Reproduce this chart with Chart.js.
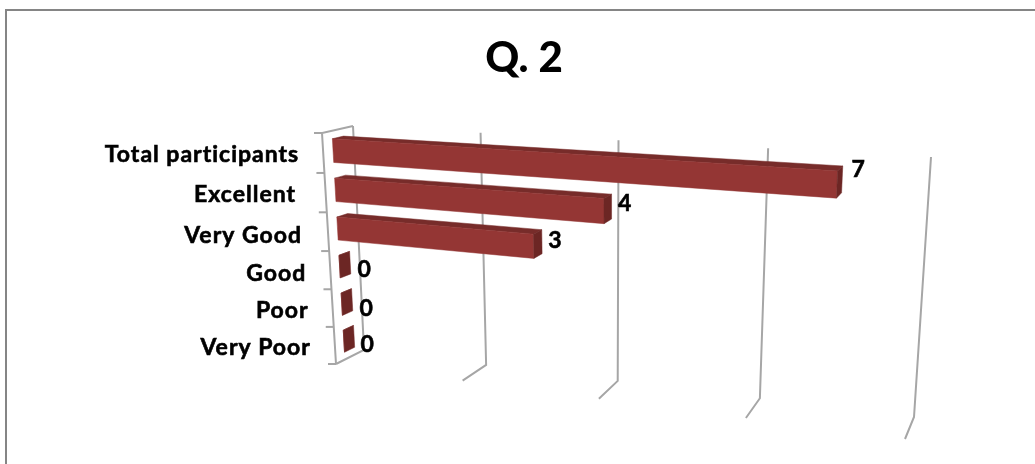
<!DOCTYPE html>
<html>
<head>
<meta charset="utf-8">
<title>Q. 2</title>
<script src="https://cdn.jsdelivr.net/npm/chart.js@4/dist/chart.umd.min.js"></script>
<style>
  html, body { margin: 0; padding: 0; background: #fff; overflow: hidden; }
  #frame { position: absolute; left: 5px; top: 9px; width: 1100px; height: 600px; border: 2px solid #858585; }
  #box { position: absolute; left: 0; top: 0; width: 1035px; height: 464px; }
</style>
</head>
<body>
<div id="frame"></div>
<div id="box"><canvas id="q2Chart"></canvas></div>
<script>
// data
const categories = ['Total participants', 'Excellent ', 'Very Good', 'Good', 'Poor', 'Very Poor'];
const values = [7, 4, 3, 0, 0, 0];
const axisMax = 8;
const axisStep = 2;

// corners of the 3D box on screen: [top left, top right, bottom right, bottom left]
const backWall = [[353, 126], [931, 157], [914, 417], [364, 350]];
const frontWall = [[322, 133], [919, 172], [905, 439], [336, 364]];
const barDepth = [0.32, 0.68];
const labelNudge = [[16, -10], [13, -3], [13, -1], [14, 7], [14, 9], [13, 8]];
const categoryNudge = [[0, 0], [1, 0], [-2, 2], [0, 1], [0, 0], [0, 0]];

const labelFont = 'bold 23px Lato, sans-serif';
const gridColor = '#a6a6a6';
const barFront = '#943634';
const barTop = '#772c2a';
const barSide = '#6c2624';

// unit square to quad, plain homography
function quadMap(q) {
  const [p0, p1, p2, p3] = q;
  const dx1 = p1[0] - p2[0], dx2 = p3[0] - p2[0], sx = p0[0] - p1[0] + p2[0] - p3[0];
  const dy1 = p1[1] - p2[1], dy2 = p3[1] - p2[1], sy = p0[1] - p1[1] + p2[1] - p3[1];
  const det = dx1 * dy2 - dx2 * dy1;
  const g = (sx * dy2 - dx2 * sy) / det;
  const h = (dx1 * sy - sx * dy1) / det;
  const a = p1[0] - p0[0] + g * p1[0], b = p3[0] - p0[0] + h * p3[0], c = p0[0];
  const d = p1[1] - p0[1] + g * p1[1], e = p3[1] - p0[1] + h * p3[1], f = p0[1];
  return (u, v) => {
    const w = g * u + h * v + 1;
    return [(a * u + b * v + c) / w, (d * u + e * v + f) / w];
  };
}
const backMap = quadMap(backWall);
const frontMap = quadMap(frontWall);

const perspectiveBars = {
  id: 'perspectiveBars',
  // screen position from chart pixels and a depth (0 = back, 1 = front)
  project(chart, px, py, depth) {
    const area = chart.chartArea;
    const u = (px - area.left) / (area.right - area.left);
    const v = (py - area.top) / (area.bottom - area.top);
    const b = backMap(u, v), f = frontMap(u, v);
    return [b[0] + (f[0] - b[0]) * depth, b[1] + (f[1] - b[1]) * depth];
  },
  line(ctx, pts) {
    ctx.beginPath();
    pts.forEach((p, i) => (i ? ctx.lineTo(p[0], p[1]) : ctx.moveTo(p[0], p[1])));
    ctx.stroke();
  },
  poly(ctx, pts, color) {
    ctx.fillStyle = color;
    ctx.strokeStyle = color;
    ctx.lineWidth = 0.5;
    ctx.beginPath();
    pts.forEach((p, i) => (i ? ctx.lineTo(p[0], p[1]) : ctx.moveTo(p[0], p[1])));
    ctx.closePath();
    ctx.fill();
    ctx.stroke();
  },
  // the reference text is heavier than Lato bold, so fatten it a little
  text(ctx, s, x, y) {
    ctx.strokeStyle = '#000';
    ctx.lineWidth = 0.6;
    ctx.strokeText(s, x, y);
    ctx.fillText(s, x, y);
  },
  beforeDatasetsDraw(chart) {
    const ctx = chart.ctx, x = chart.scales.x, y = chart.scales.y, area = chart.chartArea;
    const at = (px, py, d) => this.project(chart, px, py, d);
    ctx.save();
    ctx.strokeStyle = gridColor;
    ctx.lineWidth = 2;

    // value gridlines on back wall and floor
    x.ticks.forEach(t => {
      const px = x.getPixelForValue(t.value);
      this.line(ctx, [at(px, area.top, 0), at(px, area.bottom, 0), at(px, area.bottom, 1)]);
    });

    // side wall
    const x0 = x.getPixelForValue(0);
    this.line(ctx, [at(x0, area.top, 0), at(x0, area.top, 1), at(x0, area.bottom, 1)]);

    // category tick marks on the front edge
    for (let i = 0; i <= categories.length; i++) {
      const py = area.top + (area.bottom - area.top) * i / categories.length;
      const p = at(x0, py, 1);
      this.line(ctx, [[p[0] - 8, p[1]], p]);
    }

    // category labels follow the slanted axis
    ctx.fillStyle = '#000';
    ctx.font = labelFont;
    ctx.letterSpacing = '1px';
    ctx.textAlign = 'right';
    ctx.textBaseline = 'middle';
    categories.forEach((c, i) => {
      const p = at(x0, y.getPixelForValue(i), 1);
      this.text(ctx, c, p[0] - 24 + categoryNudge[i][0], p[1] + 2 + categoryNudge[i][1]);
    });
    ctx.restore();
  },
  beforeDatasetDraw(chart, args) {
    const ctx = chart.ctx;
    const [d0, d1] = barDepth;
    ctx.save();
    args.meta.data.forEach(bar => {
      const top = bar.y - bar.height / 2, bottom = bar.y + bar.height / 2;
      const p = (px, py, d) => this.project(chart, px, py, d);
      this.poly(ctx, [p(bar.base, top, d0), p(bar.x, top, d0), p(bar.x, top, d1), p(bar.base, top, d1)], barTop);
      this.poly(ctx, [p(bar.base, top, d1), p(bar.x, top, d1), p(bar.x, bottom, d1), p(bar.base, bottom, d1)], barFront);
      this.poly(ctx, [p(bar.x, top, d0), p(bar.x, top, d1), p(bar.x, bottom, d1), p(bar.x, bottom, d0)], barSide);
    });
    ctx.restore();
    return false;
  },
  afterDatasetsDraw(chart) {
    const ctx = chart.ctx;
    ctx.save();
    ctx.fillStyle = '#000';
    ctx.font = labelFont;
    ctx.textAlign = 'center';
    ctx.textBaseline = 'middle';
    chart.getDatasetMeta(0).data.forEach((bar, i) => {
      const p = this.project(chart, bar.x, bar.y, barDepth[0]);
      this.text(ctx, String(values[i]), p[0] + labelNudge[i][0], p[1] + labelNudge[i][1]);
    });
    ctx.restore();
  }
};

new Chart(document.getElementById('q2Chart'), {
  type: 'bar',
  plugins: [perspectiveBars],
  data: {
    labels: categories,
    datasets: [{
      label: 'Q. 2',
      data: values,
      backgroundColor: barFront,
      categoryPercentage: 1,
      barPercentage: 0.6
    }]
  },
  options: {
    indexAxis: 'y',
    responsive: true,
    maintainAspectRatio: false,
    animation: false,
    layout: { padding: { left: 13 } },
    scales: {
      x: { display: false, min: 0, max: axisMax, ticks: { stepSize: axisStep } },
      y: { display: false }
    },
    plugins: {
      legend: { display: false },
      tooltip: { enabled: false },
      title: {
        display: true,
        text: 'Q. 2',
        color: '#000',
        font: { family: 'Lato, sans-serif', size: 42, weight: '900' },
        padding: { top: 33, bottom: 20 }
      }
    }
  }
});
</script>
</body>
</html>
